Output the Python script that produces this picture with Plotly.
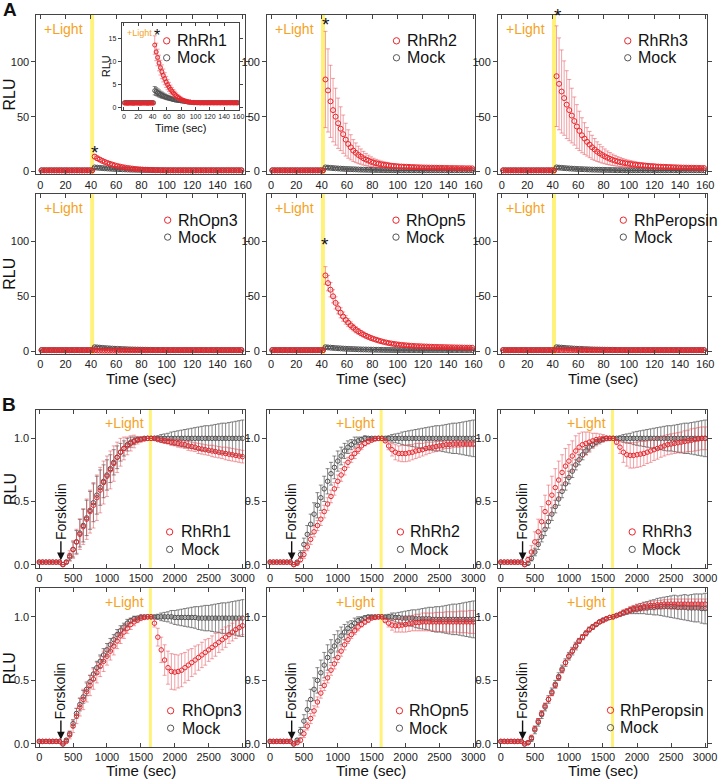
import plotly.graph_objects as go

# ------------------------------------------------------------------ data
LIGHT_A = 41          # light onset, panel A (s)
LIGHT_B = 1640        # light onset, panel B (s)
FORSKOLIN_T = 320     # forskolin addition, panel B (s)

T_A = list(range(1, 160, 2))      # 80 sampling times (s), panel A
T_B = list(range(0, 3001, 50))    # 61 sampling times (s), panel B

# ---- panel A : RLU (pre-light 1..41 s = 21 points, post-light 43..159 s = 59 points)
A_PRE_RED = [0.9, 0.9, 0.85, 0.9, 0.9, 0.9, 0.85, 0.9, 0.9, 0.9, 0.9,
             0.85, 0.9, 0.9, 0.9, 0.9, 0.85, 0.9, 0.9, 0.9, 0.9]
A_PRE_MOCK = [1.0, 1.0, 1.0, 1.0, 1.0, 1.0, 1.0, 1.0, 1.0, 1.0, 1.0,
              1.0, 1.0, 1.0, 1.0, 1.0, 1.0, 1.0, 1.0, 1.0, 1.0]
A_PRE_ERR = [0.3, 0.3, 0.3, 0.3, 0.3, 0.3, 0.3, 0.3, 0.3, 0.3, 0.3,
             0.3, 0.3, 0.3, 0.3, 0.3, 0.3, 0.3, 0.3, 0.3, 0.3]

A_MOCK_POST = [3.6, 3.4, 3.2, 3.0, 2.8, 2.65, 2.5, 2.35, 2.2, 2.1, 2.0, 1.9, 1.8, 1.7, 1.6,
               1.55, 1.5, 1.45, 1.4, 1.35, 1.3, 1.25, 1.2, 1.15, 1.1, 1.1, 1.05, 1.05, 1.0,
               1.0, 1.0, 1.0, 1.0, 1.0, 1.0, 1.0, 1.0, 1.0, 1.0, 1.0, 1.0, 1.0, 1.0, 1.0,
               1.0, 1.0, 1.0, 1.0, 1.0, 1.0, 1.0, 1.0, 1.0, 1.0, 1.0, 1.0, 1.0, 1.0, 1.0]
A_MOCK_ERR = [0.9, 0.85, 0.8, 0.75, 0.7, 0.65, 0.6, 0.55, 0.5, 0.5, 0.45, 0.45, 0.4, 0.4, 0.35,
              0.35, 0.3, 0.3, 0.3, 0.25, 0.25, 0.25, 0.25, 0.2, 0.2, 0.2, 0.2, 0.2, 0.2,
              0.2, 0.2, 0.2, 0.2, 0.2, 0.2, 0.2, 0.2, 0.2, 0.2, 0.2, 0.2, 0.2, 0.2, 0.2,
              0.2, 0.2, 0.2, 0.2, 0.2, 0.2, 0.2, 0.2, 0.2, 0.2, 0.2, 0.2, 0.2, 0.2, 0.2]

RHRH1_POST = [13.5, 12.0, 10.8, 9.6, 8.6, 7.7, 6.9, 6.2, 5.5, 4.9, 4.4, 3.9, 3.5, 3.1, 2.8,
              2.5, 2.2, 2.0, 1.8, 1.6, 1.5, 1.4, 1.3, 1.2, 1.15, 1.1, 1.05, 1.0, 1.0,
              1.0, 1.0, 0.95, 0.95, 0.95, 0.95, 0.95, 0.95, 0.95, 0.95, 0.95, 0.95, 0.95, 0.95, 0.95,
              0.95, 0.95, 0.95, 0.95, 0.95, 0.95, 0.95, 0.95, 0.95, 0.95, 0.95, 0.95, 0.95, 0.95, 0.95]
RHRH1_ERR = [2.0, 1.9, 1.8, 1.7, 1.6, 1.5, 1.4, 1.3, 1.2, 1.1, 1.0, 0.9, 0.8, 0.75, 0.7,
             0.6, 0.55, 0.5, 0.45, 0.4, 0.35, 0.3, 0.3, 0.25, 0.25, 0.2, 0.2, 0.2, 0.2,
             0.2, 0.2, 0.2, 0.2, 0.2, 0.2, 0.2, 0.2, 0.2, 0.2, 0.2, 0.2, 0.2, 0.2, 0.2,
             0.2, 0.2, 0.2, 0.2, 0.2, 0.2, 0.2, 0.2, 0.2, 0.2, 0.2, 0.2, 0.2, 0.2, 0.2]

RHRH2_POST = [84, 74, 64, 56, 50, 44, 39, 34, 29, 25, 22, 19, 17, 15, 13.5,
              12, 10.8, 9.8, 8.8, 8.0, 7.4, 6.9, 6.4, 6.0, 5.7, 5.4, 5.1, 4.9, 4.7,
              4.5, 4.4, 4.3, 4.2, 4.1, 4.0, 3.9, 3.8, 3.7, 3.6, 3.55, 3.5, 3.45, 3.4, 3.35,
              3.3, 3.25, 3.2, 3.15, 3.1, 3.05, 3.0, 3.0, 2.95, 2.9, 2.9, 2.85, 2.8, 2.8, 2.75]
RHRH2_ERR = [44, 38, 33, 29, 26, 23, 20, 17.5, 15, 13, 11.5, 10, 9, 8, 7,
             6.3, 5.6, 5, 4.5, 4, 3.6, 3.3, 3, 2.8, 2.6, 2.4, 2.2, 2.0, 1.9,
             1.8, 1.7, 1.6, 1.5, 1.4, 1.3, 1.3, 1.2, 1.2, 1.1, 1.1, 1.0, 1.0, 1.0, 0.9,
             0.9, 0.9, 0.9, 0.8, 0.8, 0.8, 0.8, 0.8, 0.7, 0.7, 0.7, 0.7, 0.7, 0.7, 0.7]

RHRH3_POST = [87, 80, 73, 67, 61, 56, 51, 46, 41, 37, 33, 30, 27, 24.5, 22,
              20, 18, 16.5, 15, 13.7, 12.5, 11.5, 10.6, 9.8, 9.1, 8.5, 8.0, 7.5, 7.1,
              6.7, 6.4, 6.1, 5.8, 5.6, 5.4, 5.2, 5.0, 4.8, 4.7, 4.5, 4.4, 4.3, 4.2, 4.1,
              4.0, 3.9, 3.8, 3.7, 3.6, 3.5, 3.45, 3.4, 3.35, 3.3, 3.25, 3.2, 3.15, 3.1, 3.05]
RHRH3_ERR = [46, 42, 38, 34, 31, 28, 25, 22, 20, 18, 16, 14.5, 13, 12, 11,
             10, 9, 8.2, 7.5, 6.8, 6.2, 5.7, 5.2, 4.8, 4.4, 4.1, 3.8, 3.5, 3.3,
             3.1, 2.9, 2.7, 2.5, 2.4, 2.3, 2.2, 2.1, 2.0, 1.9, 1.8, 1.7, 1.6, 1.6, 1.5,
             1.5, 1.4, 1.4, 1.3, 1.3, 1.2, 1.2, 1.2, 1.1, 1.1, 1.1, 1.0, 1.0, 1.0, 1.0]

RHOPN3_POST = [0.8, 0.7, 0.6, 0.6, 0.55, 0.55, 0.55, 0.6, 0.6, 0.65, 0.65, 0.7, 0.7, 0.7, 0.75,
               0.75, 0.75, 0.8, 0.8, 0.8, 0.8, 0.85, 0.85, 0.85, 0.85, 0.85, 0.9, 0.9, 0.9,
               0.9, 0.9, 0.9, 0.9, 0.9, 0.9, 0.9, 0.9, 0.9, 0.9, 0.9, 0.9, 0.9, 0.9, 0.9,
               0.9, 0.9, 0.9, 0.9, 0.9, 0.9, 0.9, 0.9, 0.9, 0.9, 0.9, 0.9, 0.9, 0.9, 0.9]
RHOPN3_ERR = [0.4, 0.4, 0.35, 0.35, 0.3, 0.3, 0.3, 0.3, 0.3, 0.3, 0.3, 0.3, 0.3, 0.3, 0.3,
              0.3, 0.3, 0.3, 0.3, 0.3, 0.3, 0.3, 0.3, 0.3, 0.3, 0.3, 0.3, 0.3, 0.3,
              0.3, 0.3, 0.3, 0.3, 0.3, 0.3, 0.3, 0.3, 0.3, 0.3, 0.3, 0.3, 0.3, 0.3, 0.3,
              0.3, 0.3, 0.3, 0.3, 0.3, 0.3, 0.3, 0.3, 0.3, 0.3, 0.3, 0.3, 0.3, 0.3, 0.3]

RHOPN5_POST = [69, 62, 56, 50, 44, 39, 35, 31.5, 28.5, 26, 23.5, 21.5, 19.5, 18, 16.5,
               15.2, 14, 13, 12, 11.2, 10.4, 9.7, 9.0, 8.4, 7.9, 7.4, 7.0, 6.6, 6.3,
               6.0, 5.7, 5.5, 5.3, 5.1, 4.9, 4.7, 4.6, 4.5, 4.4, 4.3, 4.2, 4.1, 4.0, 3.9,
               3.85, 3.8, 3.75, 3.7, 3.6, 3.55, 3.5, 3.45, 3.4, 3.35, 3.3, 3.25, 3.2, 3.15, 3.1]
RHOPN5_ERR = [8, 7, 6.5, 6, 5.5, 5, 4.6, 4.2, 3.9, 3.6, 3.3, 3.0, 2.8, 2.6, 2.4,
              2.2, 2.0, 1.9, 1.8, 1.7, 1.6, 1.5, 1.4, 1.3, 1.2, 1.2, 1.1, 1.1, 1.0,
              1.0, 0.9, 0.9, 0.9, 0.9, 0.8, 0.8, 0.8, 0.8, 0.8, 0.7, 0.7, 0.7, 0.7, 0.7,
              0.7, 0.7, 0.6, 0.6, 0.6, 0.6, 0.6, 0.6, 0.6, 0.6, 0.6, 0.6, 0.6, 0.6, 0.6]

RHPER_POST = [1.0, 0.95, 0.95, 0.9, 0.9, 0.9, 0.9, 0.9, 0.9, 0.9, 0.9, 0.9, 0.9, 0.9, 0.9,
              0.9, 0.9, 0.9, 0.9, 0.9, 0.9, 0.9, 0.9, 0.9, 0.9, 0.9, 0.9, 0.9, 0.9,
              0.9, 0.9, 0.9, 0.9, 0.9, 0.9, 0.9, 0.9, 0.9, 0.9, 0.9, 0.9, 0.9, 0.9, 0.9,
              0.9, 0.9, 0.9, 0.9, 0.9, 0.9, 0.9, 0.9, 0.9, 0.9, 0.9, 0.9, 0.9, 0.9, 0.9]
RHPER_ERR = RHOPN3_ERR

A_NAMES = ["RhRh1", "RhRh2", "RhRh3", "RhOpn3", "RhOpn5", "RhPeropsin"]
A_POST = [RHRH1_POST, RHRH2_POST, RHRH3_POST, RHOPN3_POST, RHOPN5_POST, RHPER_POST]
A_ERR = [RHRH1_ERR, RHRH2_ERR, RHRH3_ERR, RHOPN3_ERR, RHOPN5_ERR, RHPER_ERR]

# ---- panel B : normalised RLU (0..300 s = 7 pts, 350..1650 s = 27 pts, 1700..3000 s = 27 pts)
B_PRE = [0.02, 0.02, 0.02, 0.02, 0.02, 0.02, 0.02]
B_PRE_ERR = [0.005, 0.005, 0.005, 0.005, 0.005, 0.005, 0.005]

R1_RISE = [0.0, 0.02, 0.07, 0.12, 0.18, 0.24, 0.30, 0.36, 0.42, 0.47, 0.53, 0.59, 0.65, 0.70,
           0.75, 0.80, 0.85, 0.89, 0.92, 0.94, 0.96, 0.975, 0.985, 0.99, 0.995, 1.0, 1.0]
R1_RISE_ERR = [0.0, 0.01, 0.04, 0.07, 0.10, 0.12, 0.14, 0.16, 0.17, 0.18, 0.18, 0.18, 0.17, 0.16,
               0.15, 0.14, 0.12, 0.11, 0.09, 0.07, 0.06, 0.05, 0.03, 0.02, 0.01, 0.0, 0.0]
R1_POST = [1.0, 0.99, 0.985, 0.98, 0.975, 0.97, 0.965, 0.96, 0.955, 0.95, 0.94, 0.935, 0.93, 0.92,
           0.915, 0.91, 0.905, 0.90, 0.895, 0.89, 0.885, 0.88, 0.875, 0.87, 0.865, 0.86, 0.855]
R1_POST_ERR = [0.005, 0.01, 0.015, 0.02, 0.02, 0.025, 0.025, 0.03, 0.03, 0.03, 0.035, 0.035, 0.035, 0.04,
               0.04, 0.04, 0.04, 0.045, 0.045, 0.045, 0.045, 0.05, 0.05, 0.05, 0.05, 0.05, 0.05]
M1_RISE = [0.0, 0.02, 0.06, 0.12, 0.18, 0.25, 0.31, 0.37, 0.43, 0.49, 0.55, 0.61, 0.66, 0.71,
           0.76, 0.81, 0.85, 0.89, 0.92, 0.95, 0.97, 0.98, 0.99, 0.995, 1.0, 1.0, 1.0]
M1_RISE_ERR = [0.0, 0.01, 0.03, 0.06, 0.09, 0.11, 0.13, 0.14, 0.15, 0.15, 0.15, 0.14, 0.13, 0.12,
               0.11, 0.10, 0.09, 0.07, 0.06, 0.05, 0.04, 0.03, 0.02, 0.01, 0.01, 0.0, 0.0]
M1_POST = [1.0, 1.0, 1.0, 1.0, 1.0, 1.0, 1.0, 1.0, 1.0, 1.0, 1.0, 1.0, 1.0, 1.0,
           1.0, 1.0, 1.0, 1.0, 1.0, 1.0, 1.0, 1.0, 1.0, 1.0, 1.0, 1.0, 1.0]

R2_RISE = [0.0, 0.01, 0.04, 0.08, 0.14, 0.20, 0.26, 0.31, 0.36, 0.42, 0.48, 0.54, 0.60, 0.66,
           0.71, 0.76, 0.81, 0.85, 0.88, 0.91, 0.94, 0.96, 0.975, 0.985, 0.995, 1.0, 1.0]
R2_RISE_ERR = [0.0, 0.01, 0.02, 0.03, 0.03, 0.04, 0.04, 0.04, 0.05, 0.05, 0.05, 0.05, 0.05, 0.05,
               0.05, 0.05, 0.04, 0.04, 0.04, 0.03, 0.03, 0.02, 0.02, 0.01, 0.01, 0.0, 0.0]
R2_POST = [0.98, 0.94, 0.91, 0.89, 0.88, 0.88, 0.88, 0.885, 0.89, 0.90, 0.905, 0.91, 0.92, 0.925,
           0.93, 0.935, 0.94, 0.945, 0.95, 0.95, 0.955, 0.955, 0.955, 0.955, 0.955, 0.955, 0.955]
R2_POST_ERR = [0.01, 0.03, 0.05, 0.06, 0.06, 0.065, 0.065, 0.065, 0.06, 0.06, 0.055, 0.05, 0.05, 0.045,
               0.04, 0.04, 0.035, 0.03, 0.03, 0.03, 0.025, 0.025, 0.025, 0.02, 0.02, 0.02, 0.02]
M2_RISE = [0.0, 0.02, 0.08, 0.16, 0.24, 0.32, 0.40, 0.47, 0.53, 0.60, 0.66, 0.72, 0.77, 0.82,
           0.86, 0.90, 0.93, 0.95, 0.97, 0.98, 0.99, 1.0, 1.0, 1.0, 1.0, 1.0, 1.0]
M2_RISE_ERR = [0.0, 0.01, 0.03, 0.05, 0.07, 0.08, 0.09, 0.10, 0.10, 0.10, 0.10, 0.09, 0.09, 0.08,
               0.07, 0.06, 0.05, 0.04, 0.04, 0.03, 0.02, 0.02, 0.01, 0.01, 0.0, 0.0, 0.0]
M2_POST = [1.0, 1.0, 1.0, 1.0, 1.0, 1.0, 1.0, 1.0, 1.0, 1.0, 1.0, 1.0, 1.0, 1.0,
           1.0, 1.0, 1.0, 1.0, 1.0, 1.0, 1.0, 1.0, 1.0, 1.0, 1.0, 1.0, 1.0]

R3_RISE = [0.0, 0.04, 0.10, 0.18, 0.26, 0.34, 0.42, 0.49, 0.55, 0.61, 0.67, 0.73, 0.78, 0.82,
           0.86, 0.90, 0.93, 0.95, 0.96, 0.97, 0.98, 0.99, 0.995, 1.0, 1.0, 1.0, 1.0]
R3_RISE_ERR = [0.0, 0.02, 0.05, 0.08, 0.10, 0.12, 0.13, 0.14, 0.15, 0.15, 0.15, 0.14, 0.14, 0.13,
               0.12, 0.12, 0.11, 0.10, 0.09, 0.08, 0.06, 0.05, 0.04, 0.03, 0.02, 0.01, 0.0]
R3_POST = [0.97, 0.93, 0.89, 0.87, 0.865, 0.865, 0.87, 0.875, 0.88, 0.89, 0.90, 0.91, 0.92, 0.93,
           0.94, 0.95, 0.955, 0.96, 0.965, 0.97, 0.975, 0.98, 0.985, 0.99, 0.995, 1.0, 1.0]
R3_POST_ERR = [0.02, 0.05, 0.08, 0.09, 0.1, 0.1, 0.1, 0.1, 0.095, 0.09, 0.09, 0.085, 0.085, 0.08,
               0.08, 0.08, 0.08, 0.08, 0.08, 0.08, 0.085, 0.085, 0.09, 0.09, 0.09, 0.09, 0.09]
M3_RISE = [0.0, 0.01, 0.05, 0.10, 0.16, 0.22, 0.28, 0.34, 0.40, 0.46, 0.52, 0.58, 0.64, 0.69,
           0.74, 0.79, 0.83, 0.87, 0.90, 0.93, 0.95, 0.97, 0.98, 0.99, 1.0, 1.0, 1.0]
M3_RISE_ERR = [0.0, 0.01, 0.02, 0.03, 0.04, 0.04, 0.05, 0.05, 0.05, 0.05, 0.05, 0.05, 0.05, 0.05,
               0.05, 0.04, 0.04, 0.04, 0.03, 0.03, 0.02, 0.02, 0.01, 0.01, 0.0, 0.0, 0.0]
M3_POST = [1.0, 1.0, 1.0, 1.0, 1.0, 1.0, 1.0, 1.0, 1.0, 1.0, 1.0, 1.0, 1.0, 1.0,
           1.0, 1.0, 1.0, 1.0, 1.0, 1.0, 1.0, 1.0, 1.0, 1.0, 1.0, 1.0, 1.0]

R4_RISE = [0.0, 0.02, 0.07, 0.14, 0.22, 0.29, 0.35, 0.41, 0.46, 0.51, 0.56, 0.61, 0.65, 0.69,
           0.73, 0.77, 0.81, 0.85, 0.88, 0.91, 0.94, 0.96, 0.975, 0.99, 0.995, 1.0, 1.0]
R4_RISE_ERR = [0.0, 0.01, 0.03, 0.05, 0.06, 0.07, 0.08, 0.08, 0.08, 0.08, 0.08, 0.08, 0.08, 0.07,
               0.07, 0.07, 0.06, 0.06, 0.05, 0.04, 0.04, 0.03, 0.02, 0.02, 0.01, 0.0, 0.0]
R4_POST = [0.95, 0.84, 0.74, 0.66, 0.60, 0.57, 0.565, 0.57, 0.58, 0.60, 0.62, 0.64, 0.66, 0.68,
           0.70, 0.72, 0.74, 0.76, 0.78, 0.80, 0.82, 0.84, 0.86, 0.88, 0.90, 0.915, 0.93]
R4_POST_ERR = [0.03, 0.07, 0.1, 0.12, 0.13, 0.14, 0.14, 0.13, 0.13, 0.12, 0.12, 0.11, 0.11, 0.1,
               0.1, 0.1, 0.09, 0.09, 0.09, 0.08, 0.08, 0.08, 0.07, 0.07, 0.07, 0.07, 0.07]
M4_RISE = [0.0, 0.03, 0.08, 0.16, 0.24, 0.31, 0.37, 0.43, 0.49, 0.55, 0.60, 0.65, 0.70, 0.74,
           0.78, 0.82, 0.86, 0.89, 0.92, 0.95, 0.97, 0.985, 0.99, 1.0, 1.0, 1.0, 1.0]
M4_RISE_ERR = [0.0, 0.01, 0.02, 0.03, 0.04, 0.05, 0.05, 0.05, 0.05, 0.05, 0.05, 0.05, 0.05, 0.05,
               0.05, 0.04, 0.04, 0.04, 0.03, 0.03, 0.02, 0.02, 0.01, 0.01, 0.0, 0.0, 0.0]
M4_POST = [1.0, 1.0, 1.0, 1.0, 1.0, 1.0, 0.995, 0.995, 0.995, 0.995, 0.995, 0.995, 0.995, 0.99,
           0.99, 0.99, 0.99, 0.99, 0.99, 0.99, 0.99, 0.99, 0.99, 0.99, 0.99, 0.99, 0.99]

R5_RISE = [0.0, 0.01, 0.03, 0.08, 0.14, 0.20, 0.26, 0.33, 0.40, 0.46, 0.52, 0.58, 0.63, 0.68,
           0.73, 0.78, 0.82, 0.86, 0.89, 0.92, 0.94, 0.96, 0.975, 0.99, 0.995, 1.0, 1.0]
R5_RISE_ERR = [0.0, 0.01, 0.02, 0.03, 0.03, 0.04, 0.04, 0.04, 0.04, 0.04, 0.04, 0.04, 0.04, 0.04,
               0.04, 0.04, 0.03, 0.03, 0.03, 0.03, 0.02, 0.02, 0.02, 0.01, 0.01, 0.0, 0.0]
R5_POST = [0.97, 0.95, 0.935, 0.93, 0.93, 0.935, 0.94, 0.945, 0.95, 0.955, 0.955, 0.96, 0.96, 0.96,
           0.96, 0.96, 0.96, 0.96, 0.96, 0.96, 0.96, 0.96, 0.96, 0.96, 0.96, 0.96, 0.96]
R5_POST_ERR = [0.01, 0.03, 0.04, 0.05, 0.05, 0.055, 0.06, 0.06, 0.06, 0.065, 0.065, 0.07, 0.07, 0.07,
               0.07, 0.075, 0.075, 0.075, 0.08, 0.08, 0.08, 0.08, 0.085, 0.085, 0.085, 0.09, 0.09]
M5_RISE = [0.0, 0.03, 0.10, 0.18, 0.27, 0.35, 0.43, 0.50, 0.56, 0.62, 0.68, 0.73, 0.77, 0.81,
           0.85, 0.88, 0.91, 0.93, 0.95, 0.97, 0.98, 0.99, 1.0, 1.0, 1.0, 1.0, 1.0]
M5_RISE_ERR = [0.0, 0.01, 0.03, 0.05, 0.07, 0.08, 0.09, 0.10, 0.10, 0.10, 0.10, 0.09, 0.09, 0.08,
               0.07, 0.06, 0.05, 0.04, 0.04, 0.03, 0.02, 0.02, 0.01, 0.01, 0.0, 0.0, 0.0]
M5_POST = [1.0, 1.0, 1.0, 0.995, 0.995, 0.99, 0.99, 0.99, 0.99, 0.985, 0.985, 0.985, 0.985, 0.985,
           0.98, 0.98, 0.98, 0.98, 0.98, 0.98, 0.98, 0.98, 0.98, 0.98, 0.98, 0.98, 0.98]

R6_RISE = [0.0, 0.01, 0.05, 0.12, 0.18, 0.24, 0.30, 0.35, 0.40, 0.46, 0.52, 0.58, 0.64, 0.69,
           0.73, 0.77, 0.81, 0.84, 0.87, 0.90, 0.92, 0.94, 0.96, 0.97, 0.985, 0.995, 1.0]
R6_RISE_ERR = [0.0, 0.01, 0.02, 0.02, 0.02, 0.02, 0.02, 0.02, 0.02, 0.02, 0.02, 0.02, 0.02, 0.02,
               0.02, 0.02, 0.02, 0.02, 0.01, 0.01, 0.01, 0.01, 0.01, 0.01, 0.01, 0.0, 0.0]
R6_POST = [1.01, 1.02, 1.035, 1.045, 1.055, 1.065, 1.07, 1.075, 1.08, 1.085, 1.09, 1.09, 1.095, 1.095,
           1.1, 1.1, 1.1, 1.1, 1.1, 1.1, 1.1, 1.1, 1.1, 1.1, 1.1, 1.1, 1.1]
R6_POST_ERR = [0.01, 0.015, 0.02, 0.02, 0.025, 0.025, 0.03, 0.03, 0.03, 0.03, 0.03, 0.035, 0.035, 0.035,
               0.035, 0.035, 0.04, 0.04, 0.04, 0.04, 0.04, 0.04, 0.04, 0.04, 0.04, 0.04, 0.04]
M6_RISE = [0.0, 0.01, 0.04, 0.11, 0.17, 0.23, 0.29, 0.35, 0.41, 0.47, 0.53, 0.59, 0.64, 0.69,
           0.73, 0.77, 0.81, 0.84, 0.87, 0.90, 0.92, 0.94, 0.96, 0.975, 0.985, 0.995, 1.0]
M6_RISE_ERR = [0.0, 0.01, 0.02, 0.03, 0.03, 0.03, 0.03, 0.03, 0.03, 0.03, 0.03, 0.03, 0.03, 0.03,
               0.03, 0.03, 0.02, 0.02, 0.02, 0.02, 0.02, 0.01, 0.01, 0.01, 0.01, 0.0, 0.0]
M6_POST = [1.01, 1.02, 1.03, 1.04, 1.05, 1.055, 1.06, 1.065, 1.07, 1.07, 1.075, 1.075, 1.08, 1.08,
           1.08, 1.08, 1.08, 1.08, 1.075, 1.075, 1.075, 1.07, 1.07, 1.07, 1.07, 1.065, 1.065]
M6_POST_ERR = [0.005, 0.01, 0.015, 0.02, 0.025, 0.03, 0.035, 0.04, 0.045, 0.05, 0.055, 0.06, 0.065, 0.07,
               0.075, 0.08, 0.085, 0.09, 0.09, 0.095, 0.1, 0.1, 0.105, 0.11, 0.11, 0.115, 0.12]

MOCK_POST_ERR = [0.01, 0.02, 0.03, 0.035, 0.04, 0.05, 0.055, 0.06, 0.065, 0.07, 0.075, 0.08, 0.085, 0.09,
                 0.095, 0.1, 0.1, 0.105, 0.11, 0.115, 0.12, 0.12, 0.125, 0.13, 0.135, 0.14, 0.145]

B_NAMES = ["RhRh1", "RhRh2", "RhRh3", "RhOpn3", "RhOpn5", "RhPeropsin"]
B_RED = [(R1_RISE, R1_RISE_ERR, R1_POST, R1_POST_ERR),
         (R2_RISE, R2_RISE_ERR, R2_POST, R2_POST_ERR),
         (R3_RISE, R3_RISE_ERR, R3_POST, R3_POST_ERR),
         (R4_RISE, R4_RISE_ERR, R4_POST, R4_POST_ERR),
         (R5_RISE, R5_RISE_ERR, R5_POST, R5_POST_ERR),
         (R6_RISE, R6_RISE_ERR, R6_POST, R6_POST_ERR)]
B_MOCK = [(M1_RISE, M1_RISE_ERR, M1_POST, MOCK_POST_ERR),
          (M2_RISE, M2_RISE_ERR, M2_POST, MOCK_POST_ERR),
          (M3_RISE, M3_RISE_ERR, M3_POST, MOCK_POST_ERR),
          (M4_RISE, M4_RISE_ERR, M4_POST, MOCK_POST_ERR),
          (M5_RISE, M5_RISE_ERR, M5_POST, MOCK_POST_ERR),
          (M6_RISE, M6_RISE_ERR, M6_POST, M6_POST_ERR)]

# ------------------------------------------------------------------ style / layout helpers
W, H = 728, 781
FONT = "Liberation Sans, Arial, Helvetica, sans-serif"
RED = "#E8262C"
RED_ERR = "rgba(228,70,80,0.5)"
GREY = "#505050"
GREY_ERR = "rgba(60,60,60,0.6)"
YEL = "#FFF27A"
ORANGE = "#F5A21E"
AXC = "#444444"


def px(x):
    return x / W


def py(y):
    return 1 - y / H


def sfx(i):
    return "" if i == 1 else str(i)


COLS = [(37, 248), (271, 482), (505, 717)]
ROWS = [(15, 175), (195, 355.5), (411.5, 570), (590.5, 750)]

fig = go.Figure()
layout = dict(width=W, height=H, margin=dict(l=0, r=0, t=0, b=0),
              paper_bgcolor="white", plot_bgcolor="white", showlegend=False,
              font=dict(family=FONT, color="#222"))
shapes = []
annotations = []


def axis_base(fs=11, tl=4, tk="outside"):
    return dict(showline=True, linecolor=AXC, linewidth=1.2, mirror="ticks",
                ticks=tk, ticklen=tl, tickwidth=1, tickcolor=AXC,
                showgrid=False, zeroline=False, tickangle=0,
                tickfont=dict(family=FONT, size=fs, color="#222"))


def add_series(i, x, y, err, color, ecolor, size=5):
    fig.add_trace(go.Scatter(
        x=x, y=y, mode="markers", xaxis="x" + sfx(i), yaxis="y" + sfx(i),
        marker=dict(symbol="circle-open", size=size, color=color, line=dict(width=1, color=color)),
        error_y=dict(type="data", array=err, color=ecolor, thickness=1, width=2),
        hoverinfo="skip", showlegend=False))


def text(t, x, y, size, color="#111", **kw):
    d = dict(text=t, x=px(x), y=py(y), xref="paper", yref="paper", showarrow=False,
             xanchor="center", yanchor="middle",
             font=dict(family=FONT, size=size, color=color))
    d.update(kw)
    annotations.append(d)


for i in range(1, 13):
    r = (i - 1) // 3
    c = (i - 1) % 3
    xa = axis_base(tk="inside")
    ya = axis_base()
    xa.update(domain=[px(COLS[c][0]), px(COLS[c][1])], anchor="y" + sfx(i))
    ya.update(domain=[py(ROWS[r][1]), py(ROWS[r][0])], anchor="x" + sfx(i))
    if i <= 6:
        xa.update(range=[-3, 161.5], tickvals=[0, 20, 40, 60, 80, 100, 120, 140, 160])
        ya.update(range=[-2.7, 143], tickvals=[0, 50, 100])
        light = LIGHT_A
        lw = 4
    else:
        xa.update(range=[-40, 3030], tickvals=[0, 500, 1000, 1500, 2000, 2500, 3000])
        ya.update(range=[-0.025, 1.225], tickvals=[0, 0.5, 1.0], ticktext=["0.0", "0.5", "1.0"])
        light = LIGHT_B
        lw = 3
    layout["xaxis" + sfx(i)] = xa
    layout["yaxis" + sfx(i)] = ya
    shapes.append(dict(type="line", xref="x" + sfx(i), yref="y" + sfx(i) + " domain",
                       x0=light, x1=light, y0=0, y1=1,
                       line=dict(color=YEL, width=lw), layer="below"))

# ---- panel A traces
for k in range(6):
    i = k + 1
    add_series(i, T_A, A_PRE_MOCK + A_MOCK_POST, A_PRE_ERR + A_MOCK_ERR, GREY, GREY_ERR)
    add_series(i, T_A, A_PRE_RED + A_POST[k], A_PRE_ERR + A_ERR[k], RED, RED_ERR)

# ---- panel B traces
for k in range(6):
    i = k + 7
    mr, mre, mp, mpe = B_MOCK[k]
    rr, rre, rp, rpe = B_RED[k]
    add_series(i, T_B, B_PRE + mr + mp, B_PRE_ERR + mre + mpe, GREY, GREY_ERR, size=4.5)
    add_series(i, T_B, B_PRE + rr + rp, B_PRE_ERR + rre + rpe, RED, RED_ERR, size=4.5)

# ---- inset (RhRh1 zoom)
xi = axis_base(fs=7, tl=3, tk="inside")
yi = axis_base(fs=7, tl=3)
xi.update(domain=[px(123.5), px(242.5)], anchor="y13", range=[-3, 161],
          tickvals=[0, 20, 40, 60, 80, 100, 120, 140, 160], linewidth=1)
yi.update(domain=[py(110), py(23)], anchor="x13", range=[-0.5, 18.3],
          tickvals=[0, 5, 10, 15], linewidth=1)
layout["xaxis13"] = xi
layout["yaxis13"] = yi
shapes.append(dict(type="line", xref="x13", yref="y13 domain", x0=LIGHT_A, x1=LIGHT_A,
                   y0=0, y1=1, line=dict(color=YEL, width=2), layer="below"))
add_series(13, T_A, A_PRE_MOCK + A_MOCK_POST, A_PRE_ERR + A_MOCK_ERR, GREY, GREY_ERR, size=4)
add_series(13, T_A, A_PRE_RED + RHRH1_POST, A_PRE_ERR + RHRH1_ERR, RED, RED_ERR, size=4)
text("RLU", 107, 67, 11, textangle=-90)
text("Time (sec)", 184, 128, 11)
text("+Light", 141, 33.5, 9, ORANGE)
text("*", 159, 36, 16)

# ---- labels
text("<b>A</b>", 10, 10, 19)
text("<b>B</b>", 9, 406, 19)
for yc in (95, 275, 491, 671):
    text("RLU", 10, yc, 16, textangle=-90)
for c in range(3):
    xc = (COLS[c][0] + COLS[c][1]) / 2
    text("Time (sec)", xc, 379.5, 15)
    text("Time (sec)", xc, 773.5, 15)

# +Light labels
for i in range(1, 13):
    r = (i - 1) // 3
    if i <= 6:
        yv, L, xs = (29 if r == 0 else 209), LIGHT_A, -7
    else:
        yv, L, xs = (424.5 if r == 2 else 604), LIGHT_B, -4
    annotations.append(dict(text="+Light", x=L, y=py(yv), xref="x" + sfx(i), yref="paper",
                            xanchor="right", yanchor="middle", xshift=xs, showarrow=False,
                            font=dict(family=FONT, size=14, color=ORANGE)))

# stars (significance)
for (sx, sy) in [(96.7, 153), (330.7, 24.5), (565.3, 16), (330, 245)]:
    text("*", sx, sy, 19)

# legends
LEG = [(169, 177.5, 41, 58), (402, 410.5, 41, 58), (636.5, 645, 41, 58),
       (170, 178, 221, 238), (401.5, 410, 221, 238), (632, 640.5, 221, 238),
       (172, 181, 534, 551.5), (406, 414, 534, 551.5), (641, 649, 534, 551.5),
       (173, 182, 713.5, 731), (405, 413, 713.5, 731), (619, 627, 713, 730.5)]
NAMES = A_NAMES + B_NAMES
for k, (cx, tx, y1, y2) in enumerate(LEG):
    for (yy, col, name) in [(y1, RED, NAMES[k]), (y2, "#555555", "Mock")]:
        rr = 3.2
        shapes.append(dict(type="circle", xref="paper", yref="paper",
                           x0=px(cx - rr), x1=px(cx + rr), y0=py(yy + rr), y1=py(yy - rr),
                           line=dict(color=col, width=1)))
        text(name, tx, yy, 16, "#111", xanchor="left")

# Forskolin arrows
for k in range(6):
    i = k + 7
    annotations.append(dict(text="Forskolin", x=FORSKOLIN_T, y=0.035,
                            xref="x" + sfx(i), yref="y" + sfx(i),
                            showarrow=True, ax=0, ay=-49, textangle=-90,
                            arrowhead=2, arrowsize=1.1, arrowwidth=1.4, arrowcolor="#111",
                            font=dict(family=FONT, size=14, color="#111")))

layout["shapes"] = shapes
layout["annotations"] = annotations
fig.update_layout(**layout)
fig.write_html("out.html")
